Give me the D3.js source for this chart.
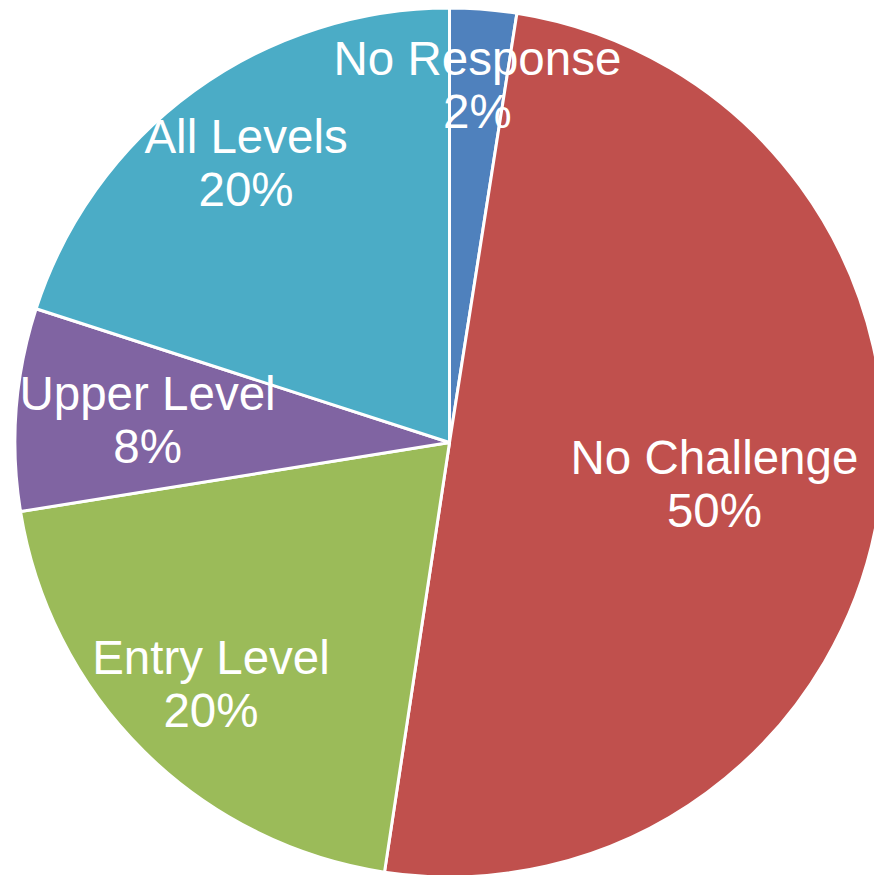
<!DOCTYPE html>
<html>
<head>
<meta charset="utf-8">
<script src="https://cdn.jsdelivr.net/npm/d3@7"></script>
<style>
  html, body { margin: 0; padding: 0; background: #ffffff; }
  svg { display: block; }
</style>
</head>
<body>
<div id="chart"></div>
<script>
// Share of responses (percent), in the order the slices run clockwise from 12 o'clock
const categories = ["No Response", "No Challenge", "Entry Level", "Upper Level", "All Levels"];
const shares = [2.48, 49.91, 20.07, 7.52, 20.02];
const colors = ["#4F81BD", "#C0504D", "#9BBB59", "#8064A2", "#4BACC6"];

const width = 874, height = 875;
const cx = 449.5, cy = 442.5, radius = 434.5;

// How far out (as a share of the radius) each slice's label sits
const labelRadiusFrac = [0.826, 0.617, 0.78, 0.697, 0.796];

const total = d3.sum(shares);

const data = categories.map((name, i) => ({ name, value: shares[i], color: colors[i], idx: i }));

const pie = d3.pie()
  .value(d => d.value)
  .sort(null)
  .startAngle(0)
  .endAngle(2 * Math.PI);

const arcs = pie(data);

const arc = d3.arc().innerRadius(0).outerRadius(radius);

const svg = d3.select("#chart").append("svg")
  .attr("width", width)
  .attr("height", height);

const g = svg.append("g").attr("transform", `translate(${cx},${cy})`);

g.selectAll("path.slice")
  .data(arcs)
  .join("path")
  .attr("class", "slice")
  .attr("d", arc)
  .attr("fill", d => d.data.color)
  .attr("stroke", "#ffffff")
  .attr("stroke-width", 3)
  .attr("stroke-linejoin", "round");

const fontSize = 47.5;
const lineGap = 53;
const capHalfOffset = 9.65;

const labels = g.selectAll("text.label")
  .data(arcs)
  .join("text")
  .attr("class", "label")
  .attr("text-anchor", "middle")
  .attr("fill", "#ffffff")
  .style("font-family", "'Liberation Sans', Arial, Helvetica, sans-serif")
  .style("font-size", fontSize + "px")
  .attr("transform", d => {
    const r = radius * labelRadiusFrac[d.data.idx];
    const a = (d.startAngle + d.endAngle) / 2;
    const x = r * Math.sin(a);
    const y = -r * Math.cos(a);
    return `translate(${x},${y})`;
  });

labels.append("tspan")
  .attr("x", 0)
  .attr("y", -capHalfOffset)
  .text(d => d.data.name);

labels.append("tspan")
  .attr("x", 0)
  .attr("y", -capHalfOffset + lineGap)
  .text(d => Math.round(d.data.value / total * 100) + "%");
</script>
</body>
</html>
